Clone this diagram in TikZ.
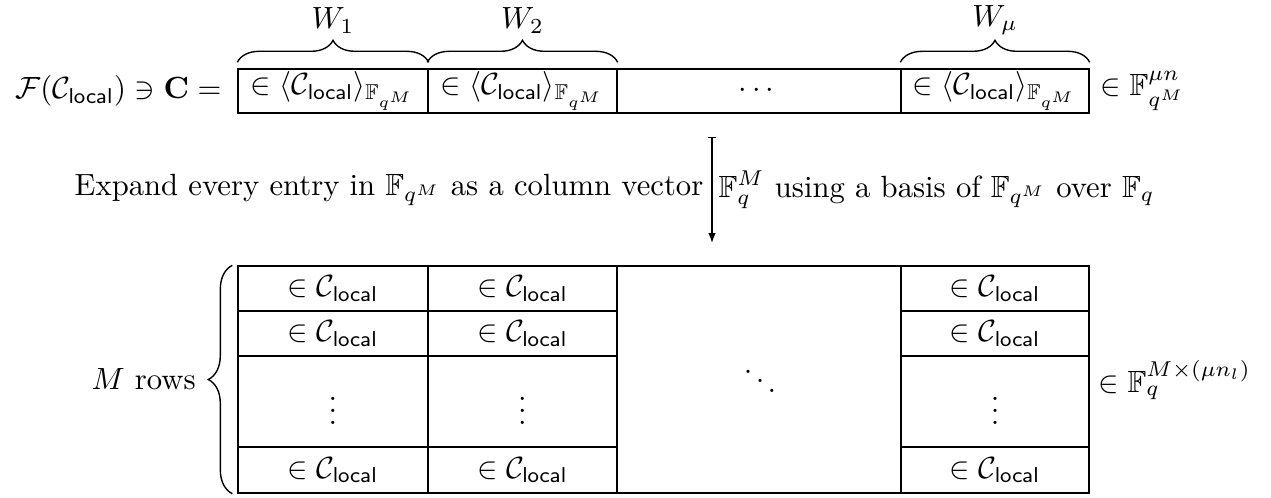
\documentclass[tikz,border=0pt]{standalone}
\usepackage{amsmath,amssymb}
\usetikzlibrary{decorations.pathreplacing,arrows.meta}
\newdimen\pxu \pxu=0.326pt
\begin{document}
\begin{tikzpicture}[x=0.326pt,y=-0.326pt,
  cell/.style={draw, rectangle, inner sep=0pt, line width=0.45pt},
  topcell/.style={cell, minimum height=44\pxu},
  bracedeco/.style={decorate, decoration={brace, amplitude=22\pxu}, line width=0.45pt},
  lbl/.style={inner sep=0pt}]
\useasboundingbox (0,0) rectangle (1271,498);
% top row
\node[topcell, minimum width=190\pxu] (t1) at (333,91) {$\in \langle \mathcal{C}_{\mathsf{local}}\rangle_{\mathbb{F}_{q^M}}$};
\node[topcell, minimum width=189\pxu] (t2) at (522.5,91) {$\in \langle \mathcal{C}_{\mathsf{local}}\rangle_{\mathbb{F}_{q^M}}$};
\node[topcell, minimum width=284\pxu] (t3) at (759,91) {$\cdots$};
\node[topcell, minimum width=188\pxu] (t4) at (995,91) {$\in \langle \mathcal{C}_{\mathsf{local}}\rangle_{\mathbb{F}_{q^M}}$};
\node[lbl, anchor=east] (lhs) at (222,91) {$\mathcal{F}(\mathcal{C}_{\mathsf{local}}) \ni \mathbf{C} =$};
\node[lbl, anchor=west] (rhs) at (1100,91) {$\in \mathbb{F}_{q^M}^{\mu n}$};
% braces
\draw[bracedeco] ([yshift=6\pxu]t1.north west) -- ([yshift=6\pxu]t1.north east) coordinate[midway] (b1);
\draw[bracedeco] ([yshift=6\pxu]t2.north west) -- ([yshift=6\pxu]t2.north east) coordinate[midway] (b2);
\draw[bracedeco] ([yshift=6\pxu]t4.north west) -- ([yshift=6\pxu]t4.north east) coordinate[midway] (b4);
\node (W1) at ([yshift=42\pxu]b1) {$W_1$};
\node (W2) at ([yshift=42\pxu]b2) {$W_2$};
\node (Wm) at ([yshift=42\pxu]b4) {$W_\mu$};
% arrow
\coordinate (as) at (712,137);
\coordinate (ae) at (712,243);
\draw[line width=0.45pt, {Bar[width=2.6pt]}-{Latex[length=3.2pt,width=2.4pt]}] (as) -- (ae)
  node[midway, left, inner sep=8\pxu] (expl) {Expand every entry in $\mathbb{F}_{q^M}$ as a column vector}
  node[midway, right, inner sep=6\pxu] (expr) {$\mathbb{F}_q^M$ using a basis of $\mathbb{F}_{q^M}$ over $\mathbb{F}_q$};
% bottom grid
\foreach \n/\x/\w in {1/333/190, 2/522.5/189, 4/995/188}{
  \node[cell, minimum width=\w\pxu, minimum height=45\pxu] (r1c\n) at (\x,288.5) {$\in \mathcal{C}_{\mathsf{local}}$};
  \node[cell, minimum width=\w\pxu, minimum height=45\pxu] (r2c\n) at (\x,333.5) {$\in \mathcal{C}_{\mathsf{local}}$};
  \node[cell, minimum width=\w\pxu, minimum height=91\pxu] (r3c\n) at (\x,401.5) {$\vdots$};
  \node[cell, minimum width=\w\pxu, minimum height=46\pxu] (r4c\n) at (\x,470) {$\in \mathcal{C}_{\mathsf{local}}$};
}
\node[cell, minimum width=284\pxu, minimum height=227\pxu] (mid) at (759,379.5) {};
\node (dd) at (760,372) {$\ddots$};
\draw[decorate, decoration={brace, amplitude=24\pxu}, line width=0.45pt] ([xshift=-5\pxu]r4c1.south west) -- ([xshift=-5\pxu]r1c1.north west) coordinate[midway] (lb);
\node[lbl, anchor=east] (rows) at ([xshift=-36\pxu]lb) {$M$ rows};
\node[lbl, anchor=west] (rhs2) at (1098,380) {$\in \mathbb{F}_q^{M\times(\mu n_l)}$};
\end{tikzpicture}
\end{document}
